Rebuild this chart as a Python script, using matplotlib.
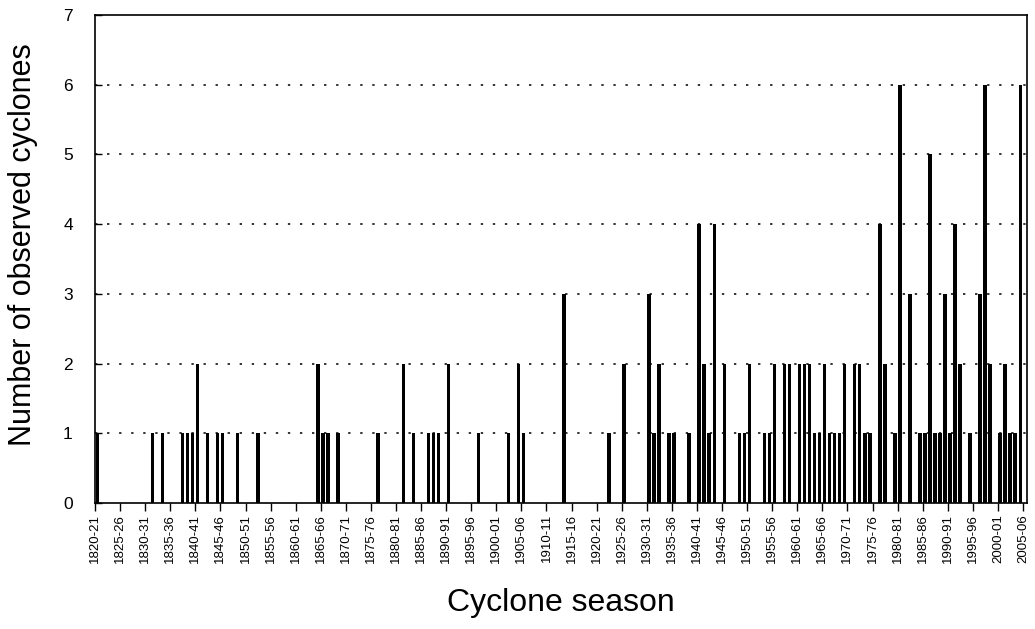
import matplotlib
matplotlib.use('Agg')
import matplotlib.pyplot as plt
import numpy as np

plt.rcParams['font.family'] = ['Liberation Sans', 'DejaVu Sans']

# cyclone seasons 1820-21 .. 2005-06
start_years = list(range(1820, 2006))
seasons = ['%d-%02d' % (y, (y + 1) % 100) for y in start_years]

# observed cyclones per season
counts = [
    1, 0, 0, 0, 0, 0, 0, 0, 0, 0,   # 1820
    0, 1, 0, 1, 0, 0, 0, 1, 1, 1,   # 1830
    2, 0, 1, 0, 1, 1, 0, 0, 1, 0,   # 1840
    0, 0, 1, 0, 0, 0, 0, 0, 0, 0,   # 1850
    0, 0, 0, 0, 2, 1, 1, 0, 1, 0,   # 1860
    0, 0, 0, 0, 0, 0, 1, 0, 0, 0,   # 1870
    0, 2, 0, 1, 0, 0, 1, 1, 1, 0,   # 1880
    2, 0, 0, 0, 0, 0, 1, 0, 0, 0,   # 1890
    0, 0, 1, 0, 2, 1, 0, 0, 0, 0,   # 1900
    0, 0, 0, 3, 0, 0, 0, 0, 0, 0,   # 1910
    0, 0, 1, 0, 0, 2, 0, 0, 0, 0,   # 1920
    3, 1, 2, 0, 1, 1, 0, 0, 1, 0,   # 1930
    4, 2, 1, 4, 0, 2, 0, 0, 1, 1,   # 1940
    2, 0, 0, 1, 1, 2, 0, 2, 2, 0,   # 1950
    2, 2, 2, 1, 1, 2, 1, 1, 1, 2,   # 1960
    0, 2, 2, 1, 1, 0, 4, 2, 0, 1,   # 1970
    6, 0, 3, 0, 1, 1, 5, 1, 1, 3,   # 1980
    1, 4, 2, 0, 1, 0, 3, 6, 2, 0,   # 1990
    1, 2, 1, 1, 6, 0,               # 2000
]

y_ticks = [0, 1, 2, 3, 4, 5, 6, 7]

fig = plt.figure(figsize=(10.35, 6.29), dpi=100)
ax = fig.add_axes([0.0918, 0.2003, 0.9005, 0.776])

idx = np.arange(len(seasons))
ax.bar(idx + 0.45, counts, width=0.7, color='black', linewidth=0, zorder=3)

ax.set_xlim(0, 185.8)
ax.set_ylim(0, 7)

ax.set_xticks(idx[::5])
ax.set_xticklabels(seasons[::5], rotation=90, fontsize=9.5)
ax.set_yticks(y_ticks)
ax.set_yticklabels([str(v) for v in y_ticks], fontsize=12.5)

ax.tick_params(axis='x', direction='out', length=6, width=1, pad=2)
ax.tick_params(axis='y', direction='in', length=5, width=1, pad=16)

for v in y_ticks[1:-1]:
    ax.axhline(v, color='#333333', linestyle=(0, (1.2, 5)), linewidth=1.4, zorder=1)

for s in ax.spines.values():
    s.set_linewidth(1.2)

ax.set_xlabel('Cyclone season', fontsize=23, labelpad=18)
ax.set_ylabel('Number of observed cyclones', fontsize=22)
ax.yaxis.set_label_coords(-0.061, 0.53)

fig.savefig('out.png', dpi=100)
